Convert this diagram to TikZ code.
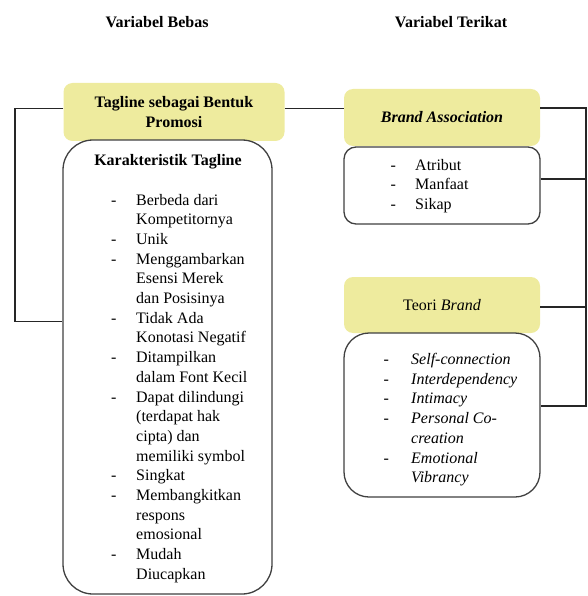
\documentclass[tikz,border=0pt]{standalone}
\usepackage{fontspec}
\setmainfont{Liberation Serif}
\definecolor{ylw}{HTML}{EEEB9E}
\definecolor{edgec}{HTML}{404040}
\begin{document}
\begin{tikzpicture}[x=1pt,y=-1pt,
  txt/.style={font=\fontsize{16}{19.7}\selectfont},
  hdr/.style={txt},
  ybox/.style={txt, fill=ylw, draw=none, rounded corners=9pt, align=center, inner sep=0pt},
  wbox/.style={fill=white, draw=edgec, line width=1.3pt, inner sep=0pt},
  lst/.style={txt, anchor=base west, inner sep=0pt},
  conn/.style={draw=black!85, line width=1.2pt}]
\path[use as bounding box] (0,0) rectangle (587,596);

% headers
\node[hdr] (hb) at (157,22) {\bfseries Variabel Bebas};
\node[hdr] (ht) at (451,22) {\bfseries Variabel Terikat};

% left column
\node[ybox, minimum width=221pt, minimum height=58pt] (tag) at (174,112) {\bfseries Tagline sebagai Bentuk\\\bfseries Promosi};
\node[wbox, rounded corners=30pt, minimum width=209pt, minimum height=454pt] (kar) at (167.5,367) {};
\node[txt] (kt) at (168,162) {\bfseries Karakteristik Tagline};
\node[lst] (kl) at (111,205) {\begin{tabular}[t]{@{}p{25pt}@{}l@{}}
- & Berbeda dari\\
  & Kompetitornya\\
- & Unik\\
- & Menggambarkan\\
  & Esensi Merek\\
  & dan Posisinya\\
- & Tidak Ada\\
  & Konotasi Negatif\\
- & Ditampilkan\\
  & dalam Font Kecil\\
- & Dapat dilindungi\\
  & (terdapat hak\\
  & cipta) dan\\
  & memiliki symbol\\
- & Singkat\\
- & Membangkitkan\\
  & respons\\
  & emosional\\
- & Mudah\\
  & Diucapkan
\end{tabular}};

% right column
\node[ybox, minimum width=196pt, minimum height=57pt] (ba) at (442,117.5) {\bfseries\itshape Brand Association};
\node[wbox, rounded corners=12pt, minimum width=196pt, minimum height=77pt] (bl) at (442,185.5) {};
\node[lst] (blt) at (390.5,170) {\begin{tabular}[t]{@{}p{24.5pt}@{}l@{}}
- & Atribut\\
- & Manfaat\\
- & Sikap
\end{tabular}};

\node[ybox, minimum width=196pt, minimum height=56pt] (tb) at (442,305) {Teori \textit{Brand}};
\node[wbox, rounded corners=25pt, minimum width=196pt, minimum height=164pt] (tl) at (442,415) {};
\node[lst] (tlt) at (383.5,364.5) {\begin{tabular}[t]{@{}p{27.5pt}@{}l@{}}
- & \textit{Self-connection}\\
- & \textit{Interdependency}\\
- & \textit{Intimacy}\\
- & \textit{Personal Co-}\\
  & \textit{creation}\\
- & \textit{Emotional}\\
  & \textit{Vibrancy}
\end{tabular}};

% connectors
\coordinate (l1) at (15,108.5);
\coordinate (l2) at (15,321.5);
\coordinate (r1) at (586,108);
\coordinate (r2) at (586,179);
\coordinate (r3) at (586,307);
\coordinate (r4) at (586,406);
\draw[conn] (tag.west |- l1) -- (l1) -- (l2) -- (kar.west |- l2);
\draw[conn] (tag.east |- l1) -- (ba.west |- l1);
\draw[conn] (ba.east |- r1) -- (r1) -- (r4) -- (tl.east |- r4);
\draw[conn] (bl.east |- r2) -- (r2);
\draw[conn] (tb.east |- r3) -- (r3);
\end{tikzpicture}
\end{document}
